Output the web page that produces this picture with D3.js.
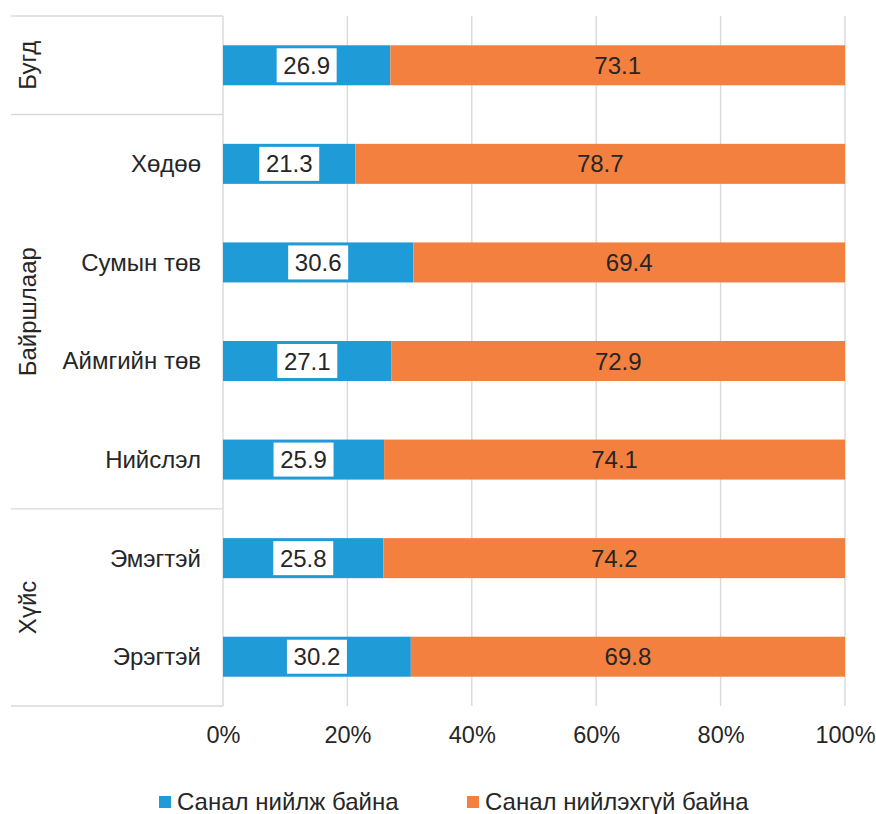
<!DOCTYPE html>
<html>
<head>
<meta charset="utf-8">
<script src="https://cdn.jsdelivr.net/npm/d3@7"></script>
<style>
  html, body { margin: 0; padding: 0; background: #fff; }
  svg { display: block; font-family: "Liberation Sans", Arial, sans-serif; }
</style>
</head>
<body>
<svg id="chart" width="876" height="814"></svg>
<script>
// ---- Data ----
const categories = ["Бугд", "Хөдөө", "Сумын төв", "Аймгийн төв", "Нийслэл", "Эмэгтэй", "Эрэгтэй"];
const agree = [26.9, 21.3, 30.6, 27.1, 25.9, 25.8, 30.2];
const disagree = [73.1, 78.7, 69.4, 72.9, 74.1, 74.2, 69.8];
const seriesNames = ["Санал нийлж байна", "Санал нийлэхгүй байна"];
const groups = [
  { name: "Бугд", items: ["Бугд"], showItems: false },
  { name: "Байршлаар", items: ["Хөдөө", "Сумын төв", "Аймгийн төв", "Нийслэл"], showItems: true },
  { name: "Хүйс", items: ["Эмэгтэй", "Эрэгтэй"], showItems: true }
];
const tickValues = [0, 0.2, 0.4, 0.6, 0.8, 1.0];

// ---- Layout ----
const colors = ["#1f9bd7", "#f4803f"];
const textColor = "#262626";
const gridColor = "#d9d9d9";
const plotLeft = 223, plotRight = 845, plotTop = 16, plotBottom = 706;
const fontSize = 24;

const svg = d3.select("#chart");

const x = d3.scaleLinear().domain([0, 1]).range([plotLeft, plotRight]);
const y = d3.scaleBand().domain(categories).range([plotTop, plotBottom])
  .paddingInner(0.594).paddingOuter(0.297);

// gridlines
svg.append("g").selectAll("line").data(tickValues).join("line")
  .attr("x1", d => x(d)).attr("x2", d => x(d))
  .attr("y1", plotTop).attr("y2", plotBottom)
  .attr("stroke", gridColor).attr("stroke-width", 1.4);

// tick labels
const xAxis = d3.axisBottom(x).tickValues(tickValues).tickFormat(d3.format(".0%")).tickSize(0).tickPadding(0);
const ax = svg.append("g").attr("transform", `translate(0,${743})`).call(xAxis);
ax.select(".domain").remove();
ax.selectAll("text")
  .attr("y", 0).attr("dy", 0)
  .attr("font-size", 23.5).attr("fill", textColor)
  .style("font-family", '"Liberation Sans", Arial, sans-serif');

// group separators (horizontal lines on left)
const boundaries = [plotTop];
let acc = 0;
groups.forEach(g => { acc += g.items.length; boundaries.push(plotTop + (plotBottom - plotTop) * acc / categories.length); });
svg.append("g").selectAll("line").data(boundaries).join("line")
  .attr("x1", 11).attr("x2", plotLeft)
  .attr("y1", d => d).attr("y2", d => d)
  .attr("stroke", gridColor).attr("stroke-width", 1.4);

// group labels (rotated)
groups.forEach((g, i) => {
  const cy = (boundaries[i] + boundaries[i + 1]) / 2;
  svg.append("text")
    .attr("transform", `translate(28,${cy}) rotate(-90)`)
    .attr("text-anchor", "middle").attr("dy", "0.35em")
    .attr("font-size", fontSize).attr("fill", textColor)
    .text(g.name);
});

// category labels
const shown = new Set(groups.filter(g => g.showItems).flatMap(g => g.items));
svg.append("g").selectAll("text").data(categories.filter(c => shown.has(c))).join("text")
  .attr("x", 201).attr("y", d => y(d) + y.bandwidth() / 2).attr("dy", "0.35em")
  .attr("text-anchor", "end").attr("font-size", fontSize).attr("fill", textColor)
  .text(d => d);

// bars
const rows = categories.map((c, i) => ({ cat: c, a: agree[i], b: disagree[i] }));
const bars = svg.append("g");
bars.selectAll("rect.a").data(rows).join("rect").attr("class", "a")
  .attr("x", x(0)).attr("y", d => y(d.cat))
  .attr("width", d => x(d.a / 100) - x(0)).attr("height", y.bandwidth())
  .attr("fill", colors[0]);
bars.selectAll("rect.b").data(rows).join("rect").attr("class", "b")
  .attr("x", d => x(d.a / 100)).attr("y", d => y(d.cat))
  .attr("width", d => x((d.a + d.b) / 100) - x(d.a / 100)).attr("height", y.bandwidth())
  .attr("fill", colors[1]);

// value labels
const lblA = svg.append("g").selectAll("g").data(rows).join("g")
  .attr("transform", d => `translate(${x(d.a / 200)},${y(d.cat) + y.bandwidth() / 2})`);
lblA.append("rect").attr("x", -30).attr("y", -17).attr("width", 60).attr("height", 34).attr("fill", "#fff");
lblA.append("text").attr("text-anchor", "middle").attr("dy", "0.36em")
  .attr("font-size", fontSize).attr("fill", textColor).text(d => d.a.toFixed(1));

svg.append("g").selectAll("text").data(rows).join("text")
  .attr("x", d => x((d.a + d.b / 2) / 100)).attr("y", d => y(d.cat) + y.bandwidth() / 2)
  .attr("dy", "0.36em").attr("text-anchor", "middle")
  .attr("font-size", fontSize).attr("fill", textColor).text(d => d.b.toFixed(1));

// legend
const legendItems = [{ name: seriesNames[0], color: colors[0], x: 159 }, { name: seriesNames[1], color: colors[1], x: 467 }];
const lg = svg.append("g").selectAll("g").data(legendItems).join("g")
  .attr("transform", d => `translate(${d.x},0)`);
lg.append("rect").attr("x", 0).attr("y", 796).attr("width", 12).attr("height", 12).attr("fill", d => d.color);
lg.append("text").attr("x", 18).attr("y", 810)
  .attr("font-size", fontSize).attr("fill", textColor).text(d => d.name);
</script>
</body>
</html>
